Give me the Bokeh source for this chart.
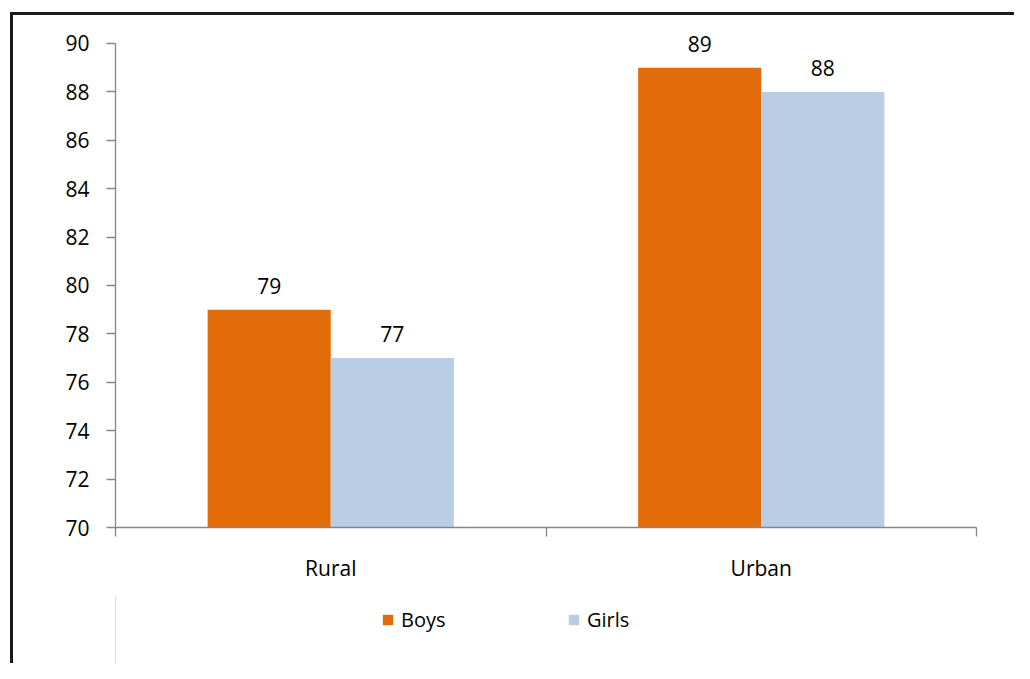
from bokeh.plotting import figure
from bokeh.layouts import column
from bokeh.models import Range1d, FixedTicker, Legend, LegendItem, ColumnDataSource
from bokeh.embed import file_html
from bokeh.resources import INLINE
from bokeh.core.properties import value

categories = ["Rural", "Urban"]
series = ["Boys", "Girls"]
boys = [79, 89]
girls = [77, 88]
y_ticks = [70, 72, 74, 76, 78, 80, 82, 84, 86, 88, 90]

FONT = "Open Sans"
ORANGE = "#E36C0A"
BLUE = "#B9CDE5"
AXIS = "#868686"

W = 1001
p = figure(width=W, height=580, output_backend="svg", toolbar_location=None,
           x_range=Range1d(0, 2), y_range=Range1d(70, 90.95),
           min_border_left=102, min_border_right=38, min_border_top=5, min_border_bottom=68)
p.outline_line_color = None
p.xgrid.grid_line_color = None
p.ygrid.grid_line_color = None

centers = [i + 0.5 for i in range(len(categories))]
bw = 0.286
src = ColumnDataSource(dict(
    xb=[c - bw / 2 for c in centers], xg=[c + bw / 2 for c in centers],
    boys=boys, girls=girls,
    lb=[str(v) for v in boys], lg=[str(v) for v in girls]))

p.vbar(x="xb", top="boys", bottom=70, width=bw, source=src, fill_color=ORANGE, line_color=None)
p.vbar(x="xg", top="girls", bottom=70, width=bw, source=src, fill_color=BLUE, line_color=None)

for xcol, ycol, tcol in (("xb", "boys", "lb"), ("xg", "girls", "lg")):
    p.text(x=xcol, y=ycol, text=tcol, source=src, y_offset=-24,
           text_align="center", text_baseline="alphabetic",
           text_font=value(FONT), text_font_size="21px", text_color="#000000")

# y axis
ya = p.yaxis[0]
ya.ticker = FixedTicker(ticks=y_ticks)
ya.bounds = (70, 90)
ya.axis_line_color = AXIS
ya.axis_line_width = 1.3
ya.major_tick_line_color = AXIS
ya.major_tick_line_width = 1.3
ya.major_tick_out = 9
ya.major_tick_in = 0
ya.minor_tick_line_color = None
ya.major_label_standoff = 17
ya.major_label_text_font = FONT
ya.major_label_text_font_size = "21px"
ya.major_label_text_color = "#000000"

# x axis
xa = p.xaxis[0]
xa.ticker = FixedTicker(ticks=centers, minor_ticks=[0, 1, 2])
xa.major_label_overrides = {c: n for c, n in zip(centers, categories)}
xa.axis_line_color = AXIS
xa.axis_line_width = 1.3
xa.major_tick_line_color = None
xa.major_tick_out = 0
xa.major_tick_in = 0
xa.minor_tick_line_color = AXIS
xa.minor_tick_line_width = 1.3
xa.minor_tick_out = 9
xa.minor_tick_in = 0
xa.major_label_standoff = 17
xa.major_label_text_font = FONT
xa.major_label_text_font_size = "21px"
xa.major_label_text_color = "#000000"

# legend strip (separate figure so the legend is not clipped by the plot frame)
pl = figure(width=W, height=68, output_backend="svg", toolbar_location=None,
            x_range=Range1d(0, 1), y_range=Range1d(0, 1),
            x_axis_type=None, y_axis_type=None,
            min_border_left=0, min_border_right=0, min_border_top=0, min_border_bottom=0)
pl.grid.grid_line_color = None
pl.outline_line_color = None
pl.border_fill_color = None
pl.background_fill_color = None
# legend-only swatches, kept outside the visible range
lb = pl.vbar(x=[-5], top=[1], width=0.1, fill_color=ORANGE, line_color=None)
lg = pl.vbar(x=[-5], top=[1], width=0.1, fill_color=BLUE, line_color=None)
legend = Legend(items=[LegendItem(label=series[0], renderers=[lb]),
                       LegendItem(label=series[1], renderers=[lg])],
                orientation="horizontal", location=(266, 30),
                glyph_width=13, glyph_height=13, label_standoff=7, spacing=46, label_width=120,
                padding=0, margin=0, border_line_color=None, background_fill_alpha=0,
                label_text_font=FONT, label_text_font_size="20px", label_text_color="#000000")
pl.add_layout(legend, "center")

inner = column(p, pl, spacing=0,
               styles={"border-left": "3px solid #1a1a1a", "border-top": "3px solid #1a1a1a"})
root = column(inner, styles={"padding-left": "10px", "padding-top": "12px"})
open("out.html", "w").write(file_html(root, INLINE))
